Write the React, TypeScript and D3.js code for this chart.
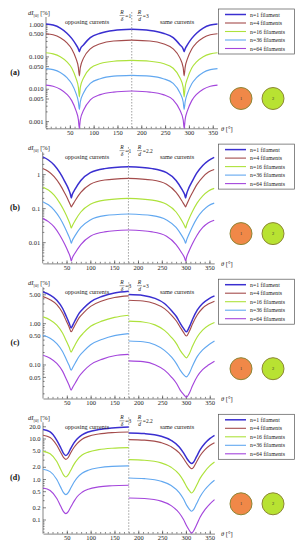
import React, { useEffect, useRef } from 'react'
import * as d3 from 'd3'

const seriesLabels = ['n=1 filament', 'n=4 filaments', 'n=16 filaments', 'n=36 filaments', 'n=64 filaments']
const seriesColors = ['#3a2fd0', '#a44c4c', '#aee23c', '#62a8f0', '#a446dc']
const xTicks = [50, 100, 150, 200, 250, 300, 350]

// (a)  R/δ = 1, R/d = 3  (180 appears twice: end of left half, start of right half)
const thetaA = [0, 15, 30, 44, 54, 63, 68, 70, 72, 79, 93, 114, 142, 180,
  180, 218, 246, 267, 281, 288, 290, 292, 297, 306, 316, 330, 345, 360]
const a1 = [1.0, 0.93, 0.75, 0.52, 0.36, 0.23, 0.17, 0.14, 0.17, 0.23, 0.38, 0.52, 0.63, 0.685,
  0.685, 0.63, 0.52, 0.38, 0.23, 0.17, 0.14, 0.17, 0.23, 0.36, 0.52, 0.75, 0.93, 1.0]
const a4 = [0.5, 0.465, 0.375, 0.26, 0.17, 0.085, 0.045, 0.025, 0.045, 0.09, 0.17, 0.245, 0.3, 0.32,
  0.32, 0.3, 0.245, 0.17, 0.09, 0.045, 0.025, 0.045, 0.085, 0.17, 0.26, 0.375, 0.465, 0.5]
const a16 = [0.13, 0.12, 0.098, 0.068, 0.044, 0.021, 0.011, 0.0056, 0.011, 0.022, 0.043, 0.06, 0.071, 0.075,
  0.075, 0.071, 0.06, 0.043, 0.022, 0.011, 0.0056, 0.011, 0.021, 0.044, 0.068, 0.098, 0.12, 0.13]
const a36 = [0.042, 0.039, 0.032, 0.022, 0.0143, 0.0072, 0.0039, 0.0023, 0.0039, 0.0075, 0.0146, 0.0205, 0.0245, 0.026,
  0.026, 0.0245, 0.0205, 0.0146, 0.0075, 0.0039, 0.0023, 0.0039, 0.0072, 0.0143, 0.022, 0.032, 0.039, 0.042]
const a64 = [0.013, 0.012, 0.0097, 0.0067, 0.0043, 0.0021, 0.0011, 0.0006, 0.0011, 0.0022, 0.0045, 0.0066, 0.0079, 0.0085,
  0.0085, 0.0079, 0.0066, 0.0045, 0.0022, 0.0011, 0.0006, 0.0011, 0.0021, 0.0043, 0.0067, 0.0097, 0.012, 0.013]

// (b)  R/δ = 1, R/d = 2.2
const thetaB = [0, 12, 24, 36, 46, 53, 58, 60, 62, 68, 80, 100, 130, 180,
  180, 230, 260, 280, 292, 298, 300, 302, 307, 314, 324, 336, 348, 360]
const b1 = [3.2, 2.6, 1.85, 1.1, 0.62, 0.4, 0.26, 0.2, 0.25, 0.36, 0.65, 1.1, 1.45, 1.64,
  1.64, 1.45, 1.1, 0.65, 0.36, 0.25, 0.2, 0.26, 0.4, 0.62, 1.1, 1.8, 2.5, 3.1]
const b4 = [1.47, 1.2, 0.85, 0.5, 0.28, 0.18, 0.125, 0.109, 0.12, 0.165, 0.29, 0.5, 0.67, 0.75,
  0.75, 0.67, 0.5, 0.29, 0.165, 0.12, 0.109, 0.125, 0.18, 0.28, 0.5, 0.82, 1.15, 1.37]
const b16 = [0.42, 0.34, 0.24, 0.14, 0.078, 0.048, 0.032, 0.026, 0.03, 0.043, 0.077, 0.13, 0.172, 0.193,
  0.193, 0.172, 0.13, 0.077, 0.043, 0.03, 0.026, 0.032, 0.048, 0.078, 0.14, 0.23, 0.32, 0.38]
const b36 = [0.155, 0.125, 0.087, 0.051, 0.028, 0.017, 0.0115, 0.0093, 0.011, 0.0155, 0.027, 0.045, 0.06, 0.067,
  0.067, 0.06, 0.045, 0.027, 0.0155, 0.011, 0.0093, 0.0115, 0.017, 0.028, 0.051, 0.084, 0.118, 0.14]
const b64 = [0.05, 0.04, 0.028, 0.016, 0.0088, 0.0054, 0.0036, 0.0028, 0.0034, 0.0048, 0.0085, 0.015, 0.02, 0.0227,
  0.0227, 0.02, 0.015, 0.0085, 0.0048, 0.0034, 0.0028, 0.0036, 0.0054, 0.0088, 0.016, 0.027, 0.037, 0.044]

// (c)  R/δ = 3, R/d = 3
const thetaC = [0, 15, 29, 41, 49, 55, 59, 63, 68, 76, 85, 100, 125, 150, 180,
  180, 210, 235, 255, 270, 280, 288, 295, 301, 307, 314, 324, 335, 348, 360]
const c1 = [5.7, 4.8, 3.6, 2.3, 1.45, 1.0, 0.77, 0.92, 1.2, 1.75, 2.3, 3.3, 4.5, 5.4, 5.95,
  4.94, 4.7, 4.0, 3.0, 2.0, 1.45, 1.0, 0.75, 0.62, 0.8, 1.25, 2.1, 3.0, 3.9, 4.58]
const c4 = [4.4, 3.7, 2.8, 1.78, 1.13, 0.8, 0.62, 0.73, 0.94, 1.36, 1.78, 2.55, 3.5, 4.2, 4.6,
  3.6, 3.45, 2.95, 2.25, 1.55, 1.13, 0.8, 0.6, 0.49, 0.63, 0.97, 1.6, 2.3, 2.95, 3.41]
const c16 = [1.42, 1.2, 0.9, 0.58, 0.37, 0.26, 0.2, 0.24, 0.31, 0.44, 0.58, 0.84, 1.14, 1.38, 1.56,
  1.12, 1.07, 0.91, 0.67, 0.45, 0.32, 0.22, 0.17, 0.145, 0.18, 0.28, 0.47, 0.68, 0.89, 1.04]
const c36 = [0.51, 0.43, 0.32, 0.207, 0.132, 0.094, 0.073, 0.087, 0.11, 0.158, 0.207, 0.3, 0.41, 0.5, 0.56,
  0.37, 0.355, 0.3, 0.22, 0.15, 0.105, 0.073, 0.057, 0.05, 0.061, 0.093, 0.157, 0.225, 0.3, 0.37]
const c64 = [0.168, 0.142, 0.106, 0.069, 0.044, 0.031, 0.024, 0.029, 0.036, 0.052, 0.069, 0.099, 0.135, 0.163, 0.175,
  0.122, 0.117, 0.099, 0.073, 0.049, 0.035, 0.024, 0.019, 0.016, 0.02, 0.031, 0.052, 0.075, 0.098, 0.12]

// (d)  R/δ = 3, R/d = 2.2
const thetaD = [0, 15, 29, 37, 43, 48, 53, 58, 65, 72, 82, 95, 117, 145, 180,
  180, 213, 248, 269, 286, 295, 302, 308, 312, 316, 322, 330, 340, 350, 360]
const d1 = [16.6, 14.5, 9.0, 6.0, 4.3, 3.8, 4.3, 5.6, 7.8, 9.9, 12.3, 14.5, 16.6, 18.2, 19.2,
  13.7, 13.2, 11.4, 9.0, 6.2, 4.4, 3.2, 2.6, 2.4, 2.6, 3.5, 5.3, 7.6, 9.9, 12.0]
const d4 = [12.0, 10.6, 6.8, 4.6, 3.4, 3.05, 3.4, 4.4, 6.0, 7.6, 9.6, 11.3, 12.9, 14.0, 14.5,
  9.4, 9.1, 7.9, 6.3, 4.4, 3.2, 2.4, 1.95, 1.8, 1.95, 2.6, 3.8, 5.3, 6.7, 7.9]
const d16 = [4.83, 4.2, 2.7, 1.75, 1.27, 1.12, 1.27, 1.62, 2.3, 3.0, 3.9, 4.6, 5.3, 5.75, 5.95,
  3.0, 2.9, 2.5, 1.95, 1.3, 0.9, 0.63, 0.5, 0.45, 0.5, 0.68, 1.05, 1.55, 2.1, 2.63]
const d36 = [1.74, 1.52, 0.97, 0.63, 0.46, 0.41, 0.46, 0.59, 0.83, 1.08, 1.38, 1.65, 1.9, 2.05, 2.1,
  1.06, 1.02, 0.88, 0.69, 0.46, 0.32, 0.22, 0.175, 0.16, 0.175, 0.24, 0.37, 0.55, 0.74, 0.93]
const d64 = [0.6, 0.52, 0.33, 0.215, 0.157, 0.14, 0.157, 0.2, 0.28, 0.37, 0.47, 0.56, 0.64, 0.68, 0.7,
  0.34, 0.33, 0.285, 0.22, 0.145, 0.1, 0.068, 0.052, 0.046, 0.052, 0.072, 0.115, 0.175, 0.24, 0.31]

const yTicksA = [1, 0.5, 0.1, 0.05, 0.01, 0.005, 0.001]
const yTicksB = [1, 0.1, 0.01]
const yTicksC = [5, 1, 0.5, 0.1, 0.05]
const yTicksD = [20, 10, 5, 2, 1, 0.5, 0.2, 0.1]

const panels = [
  { tag: '(a)', ratioL: '1', ratioR: '3', theta: thetaA, series: [a1, a4, a16, a36, a64], ticks: yTicksA, fmt: (v) => d3.format('.3f')(v), domain: [0.0006, 1.65], x0: 46 },
  { tag: '(b)', ratioL: '1', ratioR: '2.2', theta: thetaB, series: [b1, b4, b16, b36, b64], ticks: yTicksB, fmt: (v) => String(v), domain: [0.00237, 4.44], x0: 42.7 },
  { tag: '(c)', ratioL: '3', ratioR: '3', theta: thetaC, series: [c1, c4, c16, c36, c64], ticks: yTicksC, fmt: (v) => d3.format('.2f')(v), domain: [0.015, 7.44], x0: 43 },
  { tag: '(d)', ratioL: '3', ratioR: '2.2', theta: thetaD, series: [d1, d4, d16, d36, d64], ticks: yTicksD, fmt: (v) => d3.format('.1f')(v), domain: [0.0449, 25.1], x0: 43 },
]

const FONT = '"Liberation Serif", "DejaVu Serif", serif'

const App = () => {
  const svgRef = useRef(null)

  useEffect(() => {
    const svg = d3.select(svgRef.current)
    svg.selectAll('*').remove()
    svg.append('rect').attr('width', 303).attr('height', 550).attr('fill', '#fff')

    panels.forEach((p, i) => {
      const g = svg.append('g').attr('transform', `translate(0, ${i * 135.1})`)
      const axisY = 128.3
      const x = d3.scaleLinear().domain([0, 360]).range([p.x0, p.x0 + 171.5])
      const y = d3.scaleLog().domain(p.domain).range([axisY, 17])

      // clip for curves
      const clipId = `clip-${i}`
      g.append('clipPath').attr('id', clipId)
        .append('rect').attr('x', x(0)).attr('y', 10).attr('width', x(360) - x(0) + 1).attr('height', axisY - 10 + 1)

      // minor x ticks
      g.append('g')
        .attr('transform', `translate(0, ${axisY})`)
        .call(d3.axisBottom(x).tickValues(d3.range(10, 360, 10)).tickSize(-1.6).tickSizeOuter(0).tickFormat(() => ''))
        .call((s) => s.selectAll('line, path').attr('stroke', '#333').attr('stroke-width', 0.6))
      // major x ticks
      g.append('g')
        .attr('transform', `translate(0, ${axisY})`)
        .call(d3.axisBottom(x).tickValues(xTicks).tickSize(-3).tickSizeOuter(0).tickPadding(2))
        .call((s) => s.select('.domain').remove())
        .call((s) => s.selectAll('line').attr('stroke', '#333').attr('stroke-width', 0.6))
        .call((s) => s.selectAll('text').attr('font-family', FONT).attr('font-size', 6.5).attr('fill', '#222'))

      // y axis minor ticks
      const minor = y.ticks().filter((t) => !p.ticks.some((m) => Math.abs(m - t) / m < 1e-6))
      g.append('g')
        .attr('transform', `translate(${x(0)}, 0)`)
        .call(d3.axisLeft(y).tickValues(minor).tickSize(-1.6).tickSizeOuter(0).tickFormat(() => ''))
        .call((s) => s.select('.domain').remove())
        .call((s) => s.selectAll('line').attr('stroke', '#333').attr('stroke-width', 0.6))
      g.append('g')
        .attr('transform', `translate(${x(0)}, 0)`)
        .call(d3.axisLeft(y).tickValues(p.ticks).tickSize(-3).tickSizeOuter(0).tickPadding(2.5).tickFormat(p.fmt))
        .call((s) => s.select('.domain').remove())
        .call((s) => s.selectAll('line').attr('stroke', '#333').attr('stroke-width', 0.6))
        .call((s) => s.selectAll('text').attr('font-family', FONT).attr('font-size', 6.5).attr('fill', '#222'))
      g.append('line').attr('x1', x(0)).attr('x2', x(0)).attr('y1', 17).attr('y2', axisY)
        .attr('stroke', '#333').attr('stroke-width', 0.6)

      // dashed 180° divider
      g.append('line').attr('x1', x(180)).attr('x2', x(180)).attr('y1', 12).attr('y2', axisY)
        .attr('stroke', '#777').attr('stroke-width', 0.7).attr('stroke-dasharray', '1.5,1.5')

      // curves, left and right halves drawn apart
      const split = p.theta.indexOf(180) + 1
      const line = d3.line().x((d) => x(d[0])).y((d) => y(d[1])).curve(d3.curveMonotoneX)
      const curves = g.append('g').attr('clip-path', `url(#${clipId})`)
      p.series.forEach((vals, k) => {
        const pts = p.theta.map((t, j) => [t, vals[j]])
        ;[pts.slice(0, split), pts.slice(split)].forEach((half) => {
          curves.append('path')
            .attr('d', line(half))
            .attr('fill', 'none')
            .attr('stroke', seriesColors[k])
            .attr('stroke-width', k === 0 ? 1.5 : 1.15)
        })
      })

      // y label
      const yl = g.append('text').attr('x', 28).attr('y', 15).attr('font-family', FONT).attr('font-size', 6.5).attr('fill', '#222')
      yl.append('tspan').attr('font-style', 'italic').text('dI')
      yl.append('tspan').attr('font-size', 4.5).attr('dy', 1.5).text('[θ]')
      yl.append('tspan').attr('dy', -1.5).text(' [%]')

      // x label
      const xl = g.append('text').attr('x', 221).attr('y', 131).attr('font-family', FONT).attr('font-size', 6.5).attr('fill', '#222')
      xl.append('tspan').attr('font-style', 'italic').text('θ')
      xl.append('tspan').text(' [°]')

      // panel tag
      g.append('text').attr('x', 15).attr('y', 75).attr('text-anchor', 'middle')
        .attr('font-family', FONT).attr('font-size', 8).attr('font-weight', 'bold').attr('fill', '#111').text(p.tag)

      // annotations
      g.append('text').attr('x', 87).attr('y', 24).attr('text-anchor', 'middle')
        .attr('font-family', FONT).attr('font-size', 6.2).attr('fill', '#222').text('opposing currents')
      g.append('text').attr('x', 177).attr('y', 24).attr('text-anchor', 'middle')
        .attr('font-family', FONT).attr('font-size', 6.2).attr('fill', '#222').text('same currents')

      const frac = (cx, den, val) => {
        g.append('text').attr('x', cx).attr('y', 13.5).attr('text-anchor', 'middle')
          .attr('font-family', FONT).attr('font-size', 5.5).attr('font-style', 'italic').attr('fill', '#222').text('R')
        g.append('line').attr('x1', cx - 2.5).attr('x2', cx + 2.5).attr('y1', 15.5).attr('y2', 15.5)
          .attr('stroke', '#222').attr('stroke-width', 0.4)
        g.append('text').attr('x', cx).attr('y', 21).attr('text-anchor', 'middle')
          .attr('font-family', FONT).attr('font-size', 5.5).attr('font-style', 'italic').attr('fill', '#222').text(den)
        g.append('text').attr('x', cx + 3.3).attr('y', 17.5)
          .attr('font-family', FONT).attr('font-size', 5.5).attr('fill', '#222').text('=' + val)
      }
      frac(122, 'δ', p.ratioL)
      frac(139.5, 'd', p.ratioR)

      // legend
      g.append('rect').attr('x', 218.5).attr('y', 9).attr('width', 76).attr('height', 45)
        .attr('fill', '#fff').attr('stroke', '#555').attr('stroke-width', 0.7)
      seriesLabels.forEach((lab, k) => {
        const ly = 14.5 + k * 8.5
        g.append('line').attr('x1', 225).attr('x2', 246).attr('y1', ly).attr('y2', ly)
          .attr('stroke', seriesColors[k]).attr('stroke-width', k === 0 ? 1.5 : 1.1)
        g.append('text').attr('x', 250).attr('y', ly + 2).attr('font-family', FONT).attr('font-size', 5.8)
          .attr('fill', '#222').text(lab)
      })

      // conductor sketch
      const wires = [
        { cx: 241, fill: '#f08848', label: '1' },
        { cx: 273, fill: '#b8e232', label: '2' },
      ]
      wires.forEach((w) => {
        g.append('circle').attr('cx', w.cx).attr('cy', 98.5).attr('r', 11)
          .attr('fill', w.fill).attr('stroke', '#8c8636').attr('stroke-width', 1)
        g.append('text').attr('x', w.cx).attr('y', 100).attr('text-anchor', 'middle')
          .attr('font-family', FONT).attr('font-size', 4.5).attr('fill', '#333').text(w.label)
      })
    })
  }, [])

  return (
    <svg ref={svgRef} width={303} height={550}
      style={{ position: 'absolute', left: 0, top: 0, display: 'block' }} />
  )
}

export default App
